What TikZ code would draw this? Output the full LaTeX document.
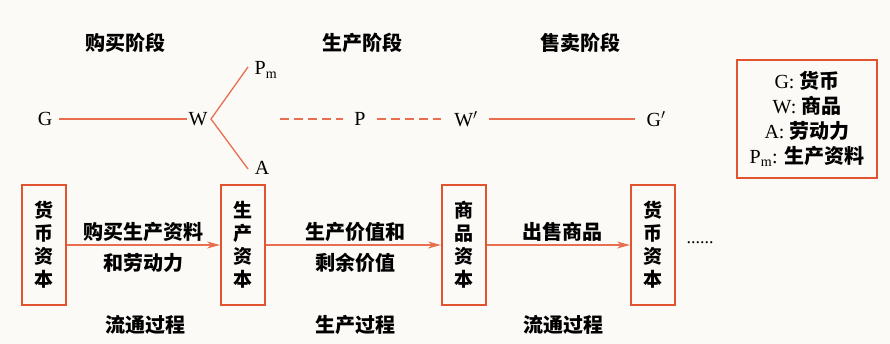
\documentclass[tikz,border=0pt]{standalone}
\usepackage{fontspec}
\setmainfont{Liberation Serif}
\newfontfamily\cjk{Noto Sans CJK SC}
\usetikzlibrary{arrows.meta}
\definecolor{boxred}{RGB}{226,84,48}
\definecolor{linered}{RGB}{232,110,80}
\definecolor{paper}{RGB}{252,250,246}
\tikzset{
  lbl/.style={font=\fontsize{20}{20}\selectfont, inner sep=1pt},
  zh/.style={font=\cjk\bfseries\fontsize{20}{20}\selectfont, inner sep=1pt},
  capbox/.style={draw=boxred, line width=2pt, minimum width=44pt, minimum height=120pt,
    align=center, font=\cjk\bfseries\fontsize{19}{23}\selectfont, inner sep=0pt},
  flow/.style={draw=linered, line width=1.3pt},
  flowarrow/.style={flow, -{Stealth[length=13pt,width=7pt]}, draw=linered, fill=boxred}
}
\begin{document}
\begin{tikzpicture}[x=1pt,y=-1pt]
\useasboundingbox[fill=paper] (0,0) rectangle (890,344);
% stage titles
\node[zh] (t1) at (125,43) {购买阶段};
\node[zh] (t2) at (362,43) {生产阶段};
\node[zh] (t3) at (580,43) {售卖阶段};
% formula G - W ... P ... W' - G'
\node[lbl] (G) at (45,119) {G};
\node[lbl] (W) at (198,119) {W};
\node[lbl] (Pm) at (266,70) {P$_{\mathrm{m}}$};
\node[lbl] (A) at (262,168) {A};
\node[lbl] (P) at (360,119) {P};
\node[lbl] (W2) at (466,119) {W$'$};
\node[lbl] (G2) at (656,119) {G$'$};
\coordinate (fork) at (211,119);
\coordinate (pmend) at (248,67);
\coordinate (aend) at (248,169);
\coordinate (dstart) at (280,119);
\draw[flow, shorten <=6pt] (G) -- (W);
\draw[flow] (pmend) -- (fork) -- (aend);
\draw[flow, dash pattern=on 9pt off 5pt, shorten >=10pt] (dstart) -- (P);
\draw[flow, dash pattern=on 9pt off 5pt, shorten <=10pt, shorten >=12pt] (P) -- (W2);
\draw[flow, shorten <=10pt, shorten >=10pt] (W2) -- (G2);
% legend
\node[draw=boxred, line width=2pt, minimum width=140pt, minimum height=118pt, align=center,
  font=\fontsize{20}{25}\selectfont, inner sep=2pt] (key) at (807,119)
  {G: {\cjk\bfseries 货币}\\ W: {\cjk\bfseries 商品}\\ A: {\cjk\bfseries 劳动力}\\ P$_{\mathrm{m}}$: {\cjk\bfseries 生产资料}};
% circuit of capital
\node[capbox] (b1) at (44,245) {货\\币\\资\\本};
\node[capbox] (b2) at (243,245) {生\\产\\资\\本};
\node[capbox] (b3) at (464,245) {商\\品\\资\\本};
\node[capbox] (b4) at (653,245) {货\\币\\资\\本};
\draw[flowarrow] (b1) -- (b2);
\draw[flowarrow] (b2) -- (b3);
\draw[flowarrow] (b3) -- (b4);
\node[zh] (a1) at (143,232) {购买生产资料};
\node[zh] (a1b) at (143,263) {和劳动力};
\node[zh] (a2) at (355,232) {生产价值和};
\node[zh] (a2b) at (355,263) {剩余价值};
\node[zh] (a3) at (562,232) {出售商品};
\node[font=\fontsize{18}{18}\selectfont, anchor=west] (dots) at (683,243) {......};
% processes
\node[zh] (p1) at (145,325) {流通过程};
\node[zh] (p2) at (355,325) {生产过程};
\node[zh] (p3) at (563,325) {流通过程};
\end{tikzpicture}
\end{document}
